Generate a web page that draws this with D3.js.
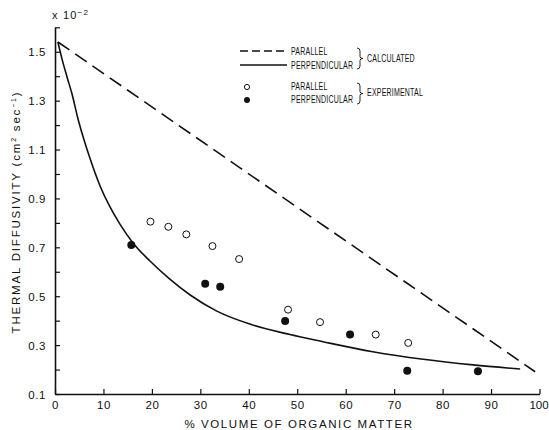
<!DOCTYPE html>
<html>
<head>
<meta charset="utf-8">
<script src="https://cdn.jsdelivr.net/npm/d3@7"></script>
<style>
  body { margin: 0; background: #fff; }
  svg text { font-family: "Liberation Sans", "DejaVu Sans", sans-serif; fill: #111; }
</style>
</head>
<body>
<svg id="chart" width="549" height="430"></svg>
<script>
// calculated curves (% volume organic matter, diffusivity x 1e-2)
const calcParallelX = [0.6, 99.1];
const calcParallelY = [1.540, 0.191];

const calcPerpX = [0.6, 1.4, 2.5, 3.5, 4.75, 6.0, 7.2, 9.3, 11.35, 13.4, 16.1, 19.6, 23.7, 27.9, 33.4, 40.2, 48.5, 55.3, 65.6, 76.0, 86.3, 96.0];
const calcPerpY = [1.540, 1.474, 1.396, 1.328, 1.225, 1.139, 1.065, 0.951, 0.865, 0.795, 0.718, 0.644, 0.570, 0.505, 0.439, 0.386, 0.343, 0.314, 0.273, 0.242, 0.219, 0.202];

// experimental points
const expParallelX = [19.7, 23.4, 27.1, 32.5, 38.0, 48.1, 54.7, 66.2, 72.9];
const expParallelY = [0.805, 0.784, 0.753, 0.705, 0.652, 0.445, 0.394, 0.343, 0.309];

const expPerpX = [15.75, 31.0, 34.1, 47.5, 60.9, 72.7, 87.3];
const expPerpY = [0.709, 0.551, 0.539, 0.399, 0.343, 0.195, 0.193];

const xTicks = [0, 10, 20, 30, 40, 50, 60, 70, 80, 90, 100];
const yTicks = [0.1, 0.2, 0.3, 0.4, 0.5, 0.6, 0.7, 0.8, 0.9, 1.0, 1.1, 1.2, 1.3, 1.4, 1.5, 1.6];
const yLabels = [0.1, 0.3, 0.5, 0.7, 0.9, 1.1, 1.3, 1.5];

const svg = d3.select("#chart");

const x = d3.scaleLinear().domain([0, 100]).range([55, 539.5]);
const y = d3.scaleLinear().domain([0.1, 1.6]).range([394, 27.3]);

// axes, ticks point inward
const xAxis = d3.axisBottom(x)
    .tickValues(xTicks)
    .tickSizeInner(-5)
    .tickSizeOuter(0)
    .tickPadding(7)
    .tickFormat(d3.format("d"));

const yAxis = d3.axisLeft(y)
    .tickValues(yTicks)
    .tickSizeInner(-5)
    .tickSizeOuter(0)
    .tickPadding(9)
    .tickFormat(d => yLabels.some(v => Math.abs(v - d) < 1e-6) ? d3.format(".1f")(d) : "");

const gx = svg.append("g")
    .attr("transform", "translate(0,394)")
    .call(xAxis);
const gy = svg.append("g")
    .attr("transform", "translate(55,0)")
    .call(yAxis);

[gx, gy].forEach(g => {
    g.select(".domain").attr("stroke", "#111").attr("stroke-width", 1.6);
    g.selectAll(".tick line").attr("stroke", "#111").attr("stroke-width", 1.2);
    g.selectAll(".tick text")
        .attr("font-family", "'Liberation Sans', sans-serif")
        .attr("font-size", 11.5)
        .attr("letter-spacing", 0.6)
        .attr("fill", "#111");
});
gy.selectAll(".tick text").attr("dy", "0.35em");
gx.selectAll(".tick text").filter(d => d === 100).attr("letter-spacing", 0).attr("dx", -1);

// axis titles
svg.append("text")
    .attr("x", 299).attr("y", 428)
    .attr("text-anchor", "middle")
    .attr("font-size", 11.5)
    .attr("letter-spacing", 1.6)
    .text("% VOLUME OF ORGANIC MATTER");

const yt = svg.append("text")
    .attr("transform", "translate(20,212) rotate(-90)")
    .attr("text-anchor", "middle")
    .attr("font-size", 11.5)
    .attr("letter-spacing", 1.8);
yt.append("tspan").text("THERMAL DIFFUSIVITY  (cm");
yt.append("tspan").attr("dy", -4).attr("font-size", 7).text("2");
yt.append("tspan").attr("dy", 4).text(" sec");
yt.append("tspan").attr("dy", -4).attr("font-size", 7).text("−1");
yt.append("tspan").attr("dy", 4).text(")");

const mult = svg.append("text")
    .attr("x", 52).attr("y", 19)
    .attr("font-size", 11)
    .attr("letter-spacing", 1.2);
mult.append("tspan").text("x 10");
mult.append("tspan").attr("dy", -4).attr("font-size", 8).text("−2");

// lines
const line = d3.line()
    .x(d => x(d[0]))
    .y(d => y(d[1]))
    .curve(d3.curveMonotoneX);

svg.append("path")
    .datum(d3.zip(calcParallelX, calcParallelY))
    .attr("d", d3.line().x(d => x(d[0])).y(d => y(d[1])))
    .attr("fill", "none")
    .attr("stroke", "#111")
    .attr("stroke-width", 1.6)
    .attr("stroke-dasharray", "14,7");

svg.append("path")
    .datum(d3.zip(calcPerpX, calcPerpY))
    .attr("d", line)
    .attr("fill", "none")
    .attr("stroke", "#111")
    .attr("stroke-width", 1.6);

// points
svg.append("g").selectAll("circle")
    .data(d3.zip(expParallelX, expParallelY))
    .enter().append("circle")
    .attr("cx", d => x(d[0]))
    .attr("cy", d => y(d[1]))
    .attr("r", 3.5)
    .attr("fill", "#fff")
    .attr("stroke", "#111")
    .attr("stroke-width", 1);

svg.append("g").selectAll("circle")
    .data(d3.zip(expPerpX, expPerpY))
    .enter().append("circle")
    .attr("cx", d => x(d[0]))
    .attr("cy", d => y(d[1]))
    .attr("r", 4)
    .attr("fill", "#111");

// legend
const lg = svg.append("g").attr("font-size", 10).attr("letter-spacing", 0.3);

function brace(xp, y0, y1) {
    const m = (y0 + y1) / 2;
    return `M${xp},${y0} Q${xp + 3},${y0} ${xp + 3},${y0 + 3} L${xp + 3},${m - 2} Q${xp + 3},${m} ${xp + 6},${m}` +
           ` Q${xp + 3},${m} ${xp + 3},${m + 2} L${xp + 3},${y1 - 3} Q${xp + 3},${y1} ${xp},${y1}`;
}

// same narrow squeeze for every legend label
function legText(tx, ty, s) {
    const t = lg.append("text").attr("x", tx).attr("y", ty).text(s);
    const w = t.node().getComputedTextLength();
    t.attr("textLength", w * 0.7).attr("lengthAdjust", "spacingAndGlyphs");
}

lg.append("line").attr("x1", 240).attr("x2", 287).attr("y1", 51).attr("y2", 51)
    .attr("stroke", "#111").attr("stroke-width", 1.3).attr("stroke-dasharray", "8,4");
lg.append("line").attr("x1", 240).attr("x2", 287).attr("y1", 65).attr("y2", 65)
    .attr("stroke", "#111").attr("stroke-width", 1.3);
legText(291, 55, "PARALLEL");
legText(291, 69, "PERPENDICULAR");
lg.append("path").attr("d", brace(357, 48, 69)).attr("fill", "none").attr("stroke", "#111").attr("stroke-width", 0.9);
legText(367, 62, "CALCULATED");

lg.append("circle").attr("cx", 247).attr("cy", 87).attr("r", 2.6)
    .attr("fill", "#fff").attr("stroke", "#111").attr("stroke-width", 1);
lg.append("circle").attr("cx", 247).attr("cy", 100).attr("r", 3).attr("fill", "#111");
legText(291, 90, "PARALLEL");
legText(291, 103, "PERPENDICULAR");
lg.append("path").attr("d", brace(357, 83, 104)).attr("fill", "none").attr("stroke", "#111").attr("stroke-width", 0.9);
legText(367, 96, "EXPERIMENTAL");
</script>
</body>
</html>
